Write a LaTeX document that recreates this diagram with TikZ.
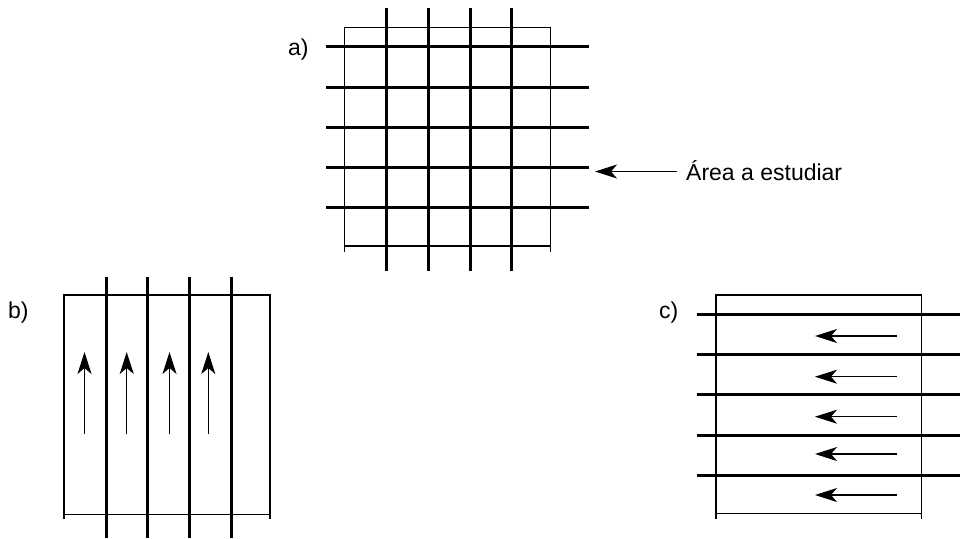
\documentclass[tikz,border=0pt]{standalone}
\usepackage{fontspec}
\setmainfont{Liberation Sans}
\usetikzlibrary{arrows.meta}
\begin{document}
\begin{tikzpicture}[x=1pt,y=-1pt,
  frame/.style={line width=1.2pt},
  heavy/.style={line width=3pt},
  flow/.style={line width=1.3pt,-{Stealth[length=22pt,width=14pt,inset=6pt]}},
  lbl/.style={anchor=base west,inner sep=0pt,font=\fontsize{23}{27}\selectfont}]
\useasboundingbox (0,0) rectangle (960,538);
% ---------- a) ----------
\node[lbl] (la) at (288,55) {a)};
\draw[frame] (344.3,251.7) -- (344.3,27.7) -- (550.3,27.7) -- (550.3,251.7);
\draw[frame] (344.3,246) -- (550.3,246);
\foreach \x in {386.7,428,470,511.7} \draw[heavy] (\x,8) -- (\x,271);
\foreach \y in {46.7,87.3,127,167,207.3} \draw[heavy] (325.7,\y) -- (589,\y);
\node[lbl,inner xsep=9pt] (area) at (677,180) {Área a estudiar};
\coordinate (tipA) at (595,171.5);
\draw[flow] (area.west |- tipA) -- (tipA);
% ---------- b) ----------
\node[lbl] (lb) at (8,318) {b)};
\draw[frame] (64,519.3) -- (64,295) -- (270,295) -- (270,519.3);
\draw[frame] (64,514.3) -- (270,514.3);
\foreach \x in {106,147.7,189.3,231} \draw[heavy] (\x,277) -- (\x,538);
\foreach \x in {84.5,126.7,169.5,208.3} \draw[flow] (\x,434) -- (\x,352);
% ---------- c) ----------
\node[lbl] (lc) at (659,318) {c)};
\draw[frame] (716,519) -- (716,295) -- (921.3,295) -- (921.3,519);
\draw[frame] (716,513.3) -- (921.3,513.3);
\foreach \y in {314,354.7,394.7,435,475} \draw[heavy] (696.7,\y) -- (960,\y);
\foreach \y in {336,376.7,416.7,454,495} \draw[flow] (897.3,\y) -- (815,\y);
\end{tikzpicture}
\end{document}
